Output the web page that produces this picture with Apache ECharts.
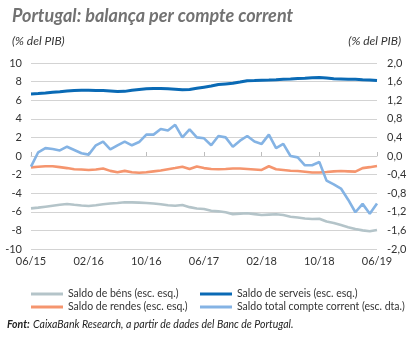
<!DOCTYPE html>
<html>
<head>
<meta charset="utf-8">
<script src="https://cdn.jsdelivr.net/npm/echarts@6/dist/echarts.min.js"></script>
<style>
html,body{margin:0;padding:0;background:#fff;}
#c{width:415px;height:338px;}
</style>
</head>
<body>
<div id="c"></div>
<script>
// Monthly, 06/2015 – 06/2019
const categories = [];
(function(){
  let y = 15, m = 6;
  for (let i = 0; i < 49; i++) {
    categories.push(String(m).padStart(2,'0') + '/' + y);
    m++; if (m > 12) { m = 1; y++; }
  }
})();

// Left axis (% del PIB)
const saldoBens = [-5.63,-5.55,-5.45,-5.35,-5.25,-5.17,-5.25,-5.32,-5.37,-5.3,-5.18,-5.1,-5.05,-4.98,-4.99,-5.01,-5.05,-5.1,-5.18,-5.3,-5.35,-5.27,-5.5,-5.65,-5.7,-5.88,-5.95,-6.05,-6.25,-6.2,-6.16,-6.25,-6.34,-6.3,-6.27,-6.35,-6.53,-6.62,-6.72,-6.77,-6.74,-7.05,-7.2,-7.42,-7.65,-7.85,-8.0,-8.1,-7.95];
const saldoServeis = [6.67,6.72,6.78,6.85,6.91,6.98,7.05,7.08,7.06,7.04,7.03,7.0,6.93,6.95,7.08,7.15,7.22,7.27,7.26,7.22,7.18,7.12,7.15,7.28,7.4,7.52,7.68,7.75,7.82,7.95,8.1,8.12,8.15,8.17,8.2,8.24,8.28,8.33,8.36,8.42,8.45,8.38,8.3,8.28,8.26,8.25,8.2,8.18,8.12];
const saldoRendes = [-1.22,-1.15,-1.1,-1.1,-1.2,-1.3,-1.42,-1.45,-1.5,-1.45,-1.35,-1.6,-1.75,-1.6,-1.75,-1.8,-1.75,-1.65,-1.55,-1.42,-1.3,-1.15,-1.4,-1.12,-1.3,-1.4,-1.43,-1.4,-1.35,-1.35,-1.4,-1.45,-1.5,-1.1,-1.42,-1.5,-1.58,-1.62,-1.7,-1.78,-1.78,-1.72,-1.65,-1.62,-1.65,-1.68,-1.3,-1.2,-1.08];
// Right axis
const saldoTotal = [-0.23,0.08,0.17,0.15,0.12,0.2,0.13,0.06,0.03,0.23,0.31,0.14,0.23,0.31,0.23,0.3,0.46,0.46,0.58,0.55,0.67,0.4,0.57,0.4,0.38,0.23,0.43,0.4,0.2,0.33,0.43,0.31,0.26,0.46,0.17,0.26,0.0,-0.03,-0.2,-0.2,-0.13,-0.53,-0.61,-0.7,-0.94,-1.21,-1.03,-1.24,-1.02];

const names = ['Saldo de béns (esc. esq.)','Saldo de serveis (esc. esq.)','Saldo de rendes (esc. esq.)','Saldo total compte corrent (esc. dta.)'];
const colors = ['#b4c4c9','#0a6ab5','#f5956e','#84b3e4'];

const FONT = 'Lato';
const chart = echarts.init(document.getElementById('c'), null, {renderer:'canvas'});
const lbl = {color:'#333', fontSize:11, fontFamily:FONT};

chart.setOption({
  animation:false,
  backgroundColor:'#fff',
  title:[
    {text:'Portugal: balança per compte corrent', left:7, top:2,
     textStyle:{fontFamily:FONT, fontSize:18, fontWeight:'bold', fontStyle:'italic', color:'#727272'}},
    {text:'(% del PIB)', left:7, top:30, textStyle:{fontFamily:FONT, fontSize:12, fontStyle:'italic', fontWeight:'normal', color:'#333'}},
    {text:'(% del PIB)', right:9, top:30, textStyle:{fontFamily:FONT, fontSize:12, fontStyle:'italic', fontWeight:'normal', color:'#333'}}
  ],
  grid:{left:31, right:38, top:63, bottom:89, containLabel:false},
  xAxis:[
    {type:'category', data:categories, boundaryGap:false, position:'bottom',
     axisLine:{show:false}, axisTick:{show:false}, splitLine:{show:false},
     axisLabel:Object.assign({interval:7, margin:7, showMaxLabel:true}, lbl)},
    {type:'category', data:categories, boundaryGap:false, position:'bottom',
     axisLine:{show:true, onZero:true, lineStyle:{color:'#cfcfcf', width:1}},
     axisTick:{show:true, inside:true, length:4, interval:7, lineStyle:{color:'#bdbdbd'}},
     axisLabel:{show:false}, splitLine:{show:false}}
  ],
  yAxis:[
    {type:'value', min:-10, max:10, interval:2, position:'left',
     axisLine:{show:false}, axisTick:{show:false},
     splitLine:{show:true, lineStyle:{color:'#d3d3d3', width:1}},
     axisLabel:Object.assign({margin:9}, lbl)},
    {type:'value', min:-2, max:2, interval:0.4, position:'right',
     axisLine:{show:false}, axisTick:{show:false}, splitLine:{show:false},
     axisLabel:Object.assign({margin:10, formatter:function(v){return v.toFixed(1).replace('.',',').replace('-0,0','0,0');}}, lbl)}
  ],
  legend:[
    {data:[names[0], names[2]], orient:'vertical', left:26, top:283, itemWidth:32, itemHeight:3, itemGap:1,
     icon:'rect', textStyle:{fontFamily:FONT, fontSize:10.5, color:'#333', lineHeight:12}},
    {data:[names[1], names[3]], orient:'vertical', left:195, top:283, itemWidth:32, itemHeight:3, itemGap:1,
     icon:'rect', textStyle:{fontFamily:FONT, fontSize:10.5, color:'#333', lineHeight:12}}
  ],
  series:[
    {name:names[0], type:'line', data:saldoBens, yAxisIndex:0, xAxisIndex:0, showSymbol:false, symbol:'none',
     lineStyle:{color:colors[0], width:2.6}, itemStyle:{color:colors[0]}, z:2},
    {name:names[1], type:'line', data:saldoServeis, yAxisIndex:0, xAxisIndex:0, showSymbol:false, symbol:'none',
     lineStyle:{color:colors[1], width:3}, itemStyle:{color:colors[1]}, z:3},
    {name:names[2], type:'line', data:saldoRendes, yAxisIndex:0, xAxisIndex:0, showSymbol:false, symbol:'none',
     lineStyle:{color:colors[2], width:2.6}, itemStyle:{color:colors[2]}, z:2},
    {name:names[3], type:'line', data:saldoTotal, yAxisIndex:1, xAxisIndex:0, showSymbol:false, symbol:'none',
     lineStyle:{color:colors[3], width:2.6}, itemStyle:{color:colors[3]}, z:4}
  ],
  graphic:[
    {type:'text', left:7, top:319,
     style:{text:'{b|Font:} {i|CaixaBank Research, a partir de dades del Banc de Portugal.}',
       rich:{b:{fontFamily:FONT, fontSize:10.5, fontWeight:'bold', fontStyle:'italic', fill:'#222'},
             i:{fontFamily:FONT, fontSize:10.5, fontStyle:'italic', fill:'#222'}}}}
  ]
});
</script>
</body>
</html>
